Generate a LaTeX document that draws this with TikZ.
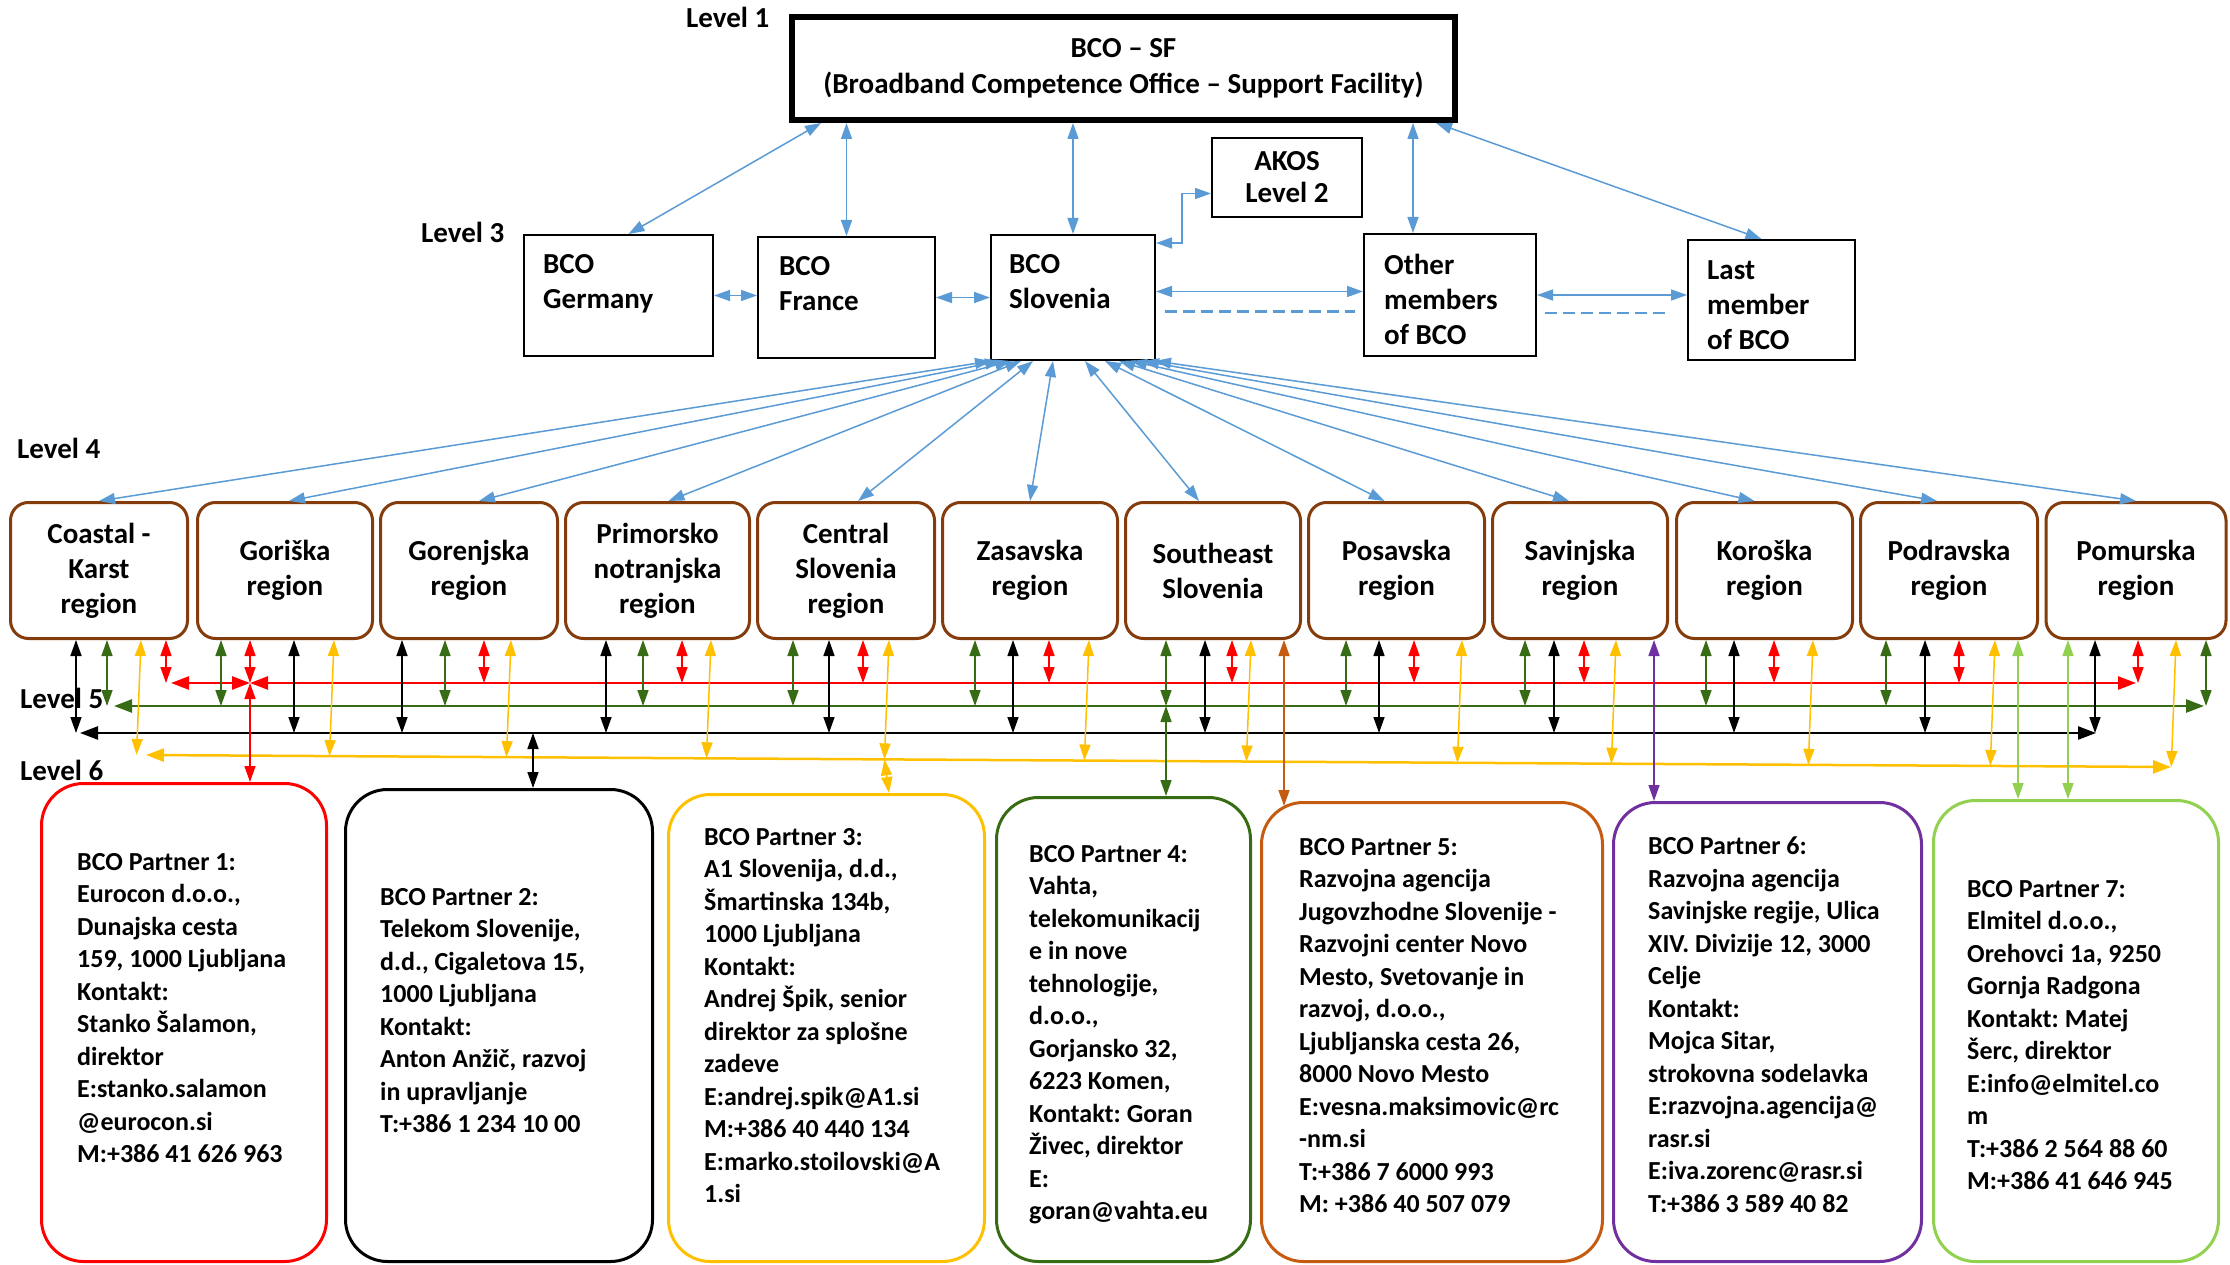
\documentclass[tikz,border=0pt]{standalone}
\usepackage{fontspec}
\setmainfont{Carlito}
\usepackage{tikz}
\usetikzlibrary{arrows.meta,calc}

\definecolor{bcoblue}{RGB}{91,155,213}
\definecolor{regbrown}{RGB}{132,60,12}
\definecolor{dgreen}{RGB}{56,108,20}
\definecolor{gold}{RGB}{255,192,0}
\definecolor{rust}{RGB}{197,90,17}
\definecolor{violet2}{RGB}{112,48,160}
\definecolor{lgreen}{RGB}{146,208,80}

\tikzset{
  >={Triangle[length=16pt,width=11pt]},
  lvl/.style={anchor=west, inner sep=0pt, font=\fontsize{29}{35}\selectfont\bfseries},
  sfbox/.style={draw, line width=6pt, align=center, font=\fontsize{29}{36}\selectfont\bfseries},
  cbox/.style={draw, line width=1.6pt, inner sep=0pt},
  btext/.style={anchor=north west, inner sep=0pt, align=left, font=\fontsize{29}{35}\selectfont\bfseries},
  region/.style={draw=regbrown, line width=3pt, rounded corners=18pt, minimum height=136pt,
    align=center, font=\fontsize{29}{35}\selectfont\bfseries},
  pbox/.style={line width=3pt, rounded corners=42pt},
  ptext/.style={anchor=north west, inner sep=0pt, align=left,
    font=\fontsize{26}{32.5}\selectfont\bfseries\frenchspacing},
  blu/.style={bcoblue, line width=1.5pt, <->},
  bdash/.style={bcoblue, line width=2.5pt, dash pattern=on 12pt off 6pt},
  stub/.style={line width=1.5pt, <->},
  bus/.style={line width=2.5pt, {Triangle[length=18pt,width=13pt]}-{Triangle[length=18pt,width=13pt]}},
}

\begin{document}
\begin{tikzpicture}[x=1pt, y=-1pt]
  \fill[white] (0,0) rectangle (2230,1265);
  \useasboundingbox (0,0) rectangle (2230,1265);

  % Level 1
  \node[lvl] (lv1) at (686,17) {Level 1};
  \node[sfbox, minimum width=663pt, minimum height=103pt] (sf) at (1123.5,68.5)
    {BCO – SF\\(Broadband Competence Office – Support Facility)};

  % Level 2 and 3
  \node[lvl] (lv3) at (421,232) {Level 3};
  \node[cbox, minimum width=189.4pt, minimum height=121.4pt] (ger) at (618.5,295.5) {};
  \node[cbox, minimum width=177.4pt, minimum height=121.4pt] (fr) at (846.5,297.5) {};
  \node[cbox, minimum width=164.4pt, minimum height=125.4pt] (slo) at (1073,297.5) {};
  \node[cbox, minimum width=150.4pt, minimum height=79.4pt, align=center,
        font=\fontsize{29}{32}\selectfont\bfseries] (akos) at (1287,177.5) {AKOS\\Level 2};
  \node[cbox, minimum width=172.4pt, minimum height=122.4pt] (oth) at (1450,295) {};
  \node[cbox, minimum width=167.4pt, minimum height=120.4pt] (last) at (1771.5,300) {};
  \node[btext] (gerT) at (543,254) {BCO\\Germany};
  \node[btext] (frT) at (779,256) {BCO\\France};
  \node[btext] (sloT) at (1009,254) {BCO\\Slovenia};
  \node[btext] (othT) at (1384,254) {Other\\members\\of BCO};
  \node[btext] (lastT) at (1707,260) {Last\\member\\of BCO};

  \draw[blu] ([xshift=-302.5pt]sf.south) -- ([xshift=10pt]ger.north);
  \draw[blu] (sf.south -| fr.north) -- (fr.north);
  \draw[blu] (sf.south -| slo.north) -- (slo.north);
  \draw[blu] (sf.south -| 1413,0) -- (oth.north -| 1413,0);
  \draw[blu] (sf.south -| 1436,0) -- ([xshift=-10pt]last.north);
  \draw[blu] (ger.east) -- (ger.east -| fr.west);
  \draw[blu] (fr.east) -- (fr.east -| slo.west);
  \draw[blu] ([yshift=6pt]slo.east) -- ([yshift=6pt]slo.east -| oth.west);
  \draw[blu] (oth.east) -- (oth.east -| last.west);
  \draw[bdash] ($(slo.east)+(9,14)$) -- ($(slo.east -| oth.west)+(-8,14)$);
  \draw[bdash] ($(oth.east)+(8,18)$) -- ($(oth.east -| last.west)+(-22,18)$);
  \draw[blu] ([yshift=-9pt]slo.north east) -| ([xshift=-29pt,yshift=-16pt]akos.west)
    -- ([yshift=-16pt]akos.west);

  % Level 4 regions
  \node[lvl] (lv4) at (17,448) {Level 4};
  \node[region, minimum width=177pt] (r1) at (99,570.5) {Coastal -\\Karst\\region};
  \node[region, minimum width=175pt] (r2) at (285,570.5) {Goriška\\region};
  \node[region, minimum width=177pt] (r3) at (469,570.5) {Gorenjska\\region};
  \node[region, minimum width=184pt] (r4) at (657.5,570.5) {Primorsko\\notranjska\\region};
  \node[region, minimum width=177pt] (r5) at (846,570.5) {Central\\Slovenia\\region};
  \node[region, minimum width=175pt] (r6) at (1030,570.5) {Zasavska\\region};
  \node[region, minimum width=175pt] (r7) at (1213,570.5) {Southeast\\Slovenia};
  \node[region, minimum width=176pt] (r8) at (1396.5,570.5) {Posavska\\region};
  \node[region, minimum width=175pt] (r9) at (1580,570.5) {Savinjska\\region};
  \node[region, minimum width=176pt] (r10) at (1764.5,570.5) {Koroška\\region};
  \node[region, minimum width=177pt] (r11) at (1949,570.5) {Podravska\\region};
  \node[region, minimum width=180pt] (r12) at (2136,570.5) {Pomurska\\region};

  \draw[blu] ([xshift=-82pt]slo.south) -- (r1.north);
  \draw[blu] ([xshift=-72pt]slo.south) -- ([xshift=4pt]r2.north);
  \draw[blu] ([xshift=-62pt]slo.south) -- ([xshift=10pt]r3.north);
  \draw[blu] ([xshift=-52pt]slo.south) -- ([xshift=11pt]r4.north);
  \draw[blu] ([xshift=-40pt]slo.south) -- ([xshift=12pt]r5.north);
  \draw[blu] ([xshift=-20pt]slo.south) -- (r6.north);
  \draw[blu] ([xshift=12pt]slo.south) -- ([xshift=-14pt]r7.north);
  \draw[blu] ([xshift=32pt]slo.south) -- ([xshift=-12pt]r8.north);
  \draw[blu] ([xshift=46pt]slo.south) -- ([xshift=-11pt]r9.north);
  \draw[blu] ([xshift=58pt]slo.south) -- ([xshift=-10pt]r10.north);
  \draw[blu] ([xshift=70pt]slo.south) -- ([xshift=-12pt]r11.north);
  \draw[blu] ([xshift=82pt]slo.south) -- (r12.north);

  % Level 5 lines
  \node[lvl] (lv5) at (20,698) {Level 5};
  \node[lvl] (lv6) at (20,770) {Level 6};
  \coordinate (redL) at (171,683);
  \coordinate (redM) at (250,683);
  \coordinate (redR) at (2136,683);
  \coordinate (grnL) at (114,706);
  \coordinate (grnR) at (2204,706);
  \coordinate (blkL) at (80,733);
  \coordinate (blkR) at (2096,733);
  \coordinate (yelL) at (146,755);
  \coordinate (yelR) at (2171,767);
  \draw[bus, red] (redL) -- (redM);
  \draw[bus, red] (redM) -- (redR);
  \draw[bus, dgreen] (grnL) -- (grnR);
  \draw[bus, black] (blkL) -- (blkR);
  \draw[bus, gold] (yelL) -- (yelR);

  % black
  \draw[stub, black] (r1.south -| 76,0) -- (blkL -| 76,0);
  \draw[stub, black] (r2.south -| 294,0) -- (blkL -| 294,0);
  \draw[stub, black] (r3.south -| 402,0) -- (blkL -| 402,0);
  \draw[stub, black] (r4.south -| 606,0) -- (blkL -| 606,0);
  \draw[stub, black] (r5.south -| 829,0) -- (blkL -| 829,0);
  \draw[stub, black] (r6.south -| 1013,0) -- (blkL -| 1013,0);
  \draw[stub, black] (r7.south -| 1205,0) -- (blkL -| 1205,0);
  \draw[stub, black] (r8.south -| 1379,0) -- (blkL -| 1379,0);
  \draw[stub, black] (r9.south -| 1554,0) -- (blkL -| 1554,0);
  \draw[stub, black] (r10.south -| 1734,0) -- (blkL -| 1734,0);
  \draw[stub, black] (r11.south -| 1925,0) -- (blkL -| 1925,0);
  \draw[stub, black] (r12.south -| 2095,0) -- (blkL -| 2095,0);
  % green
  \draw[stub, dgreen] (r1.south -| 107,0) -- (grnL -| 107,0);
  \draw[stub, dgreen] (r2.south -| 221,0) -- (grnL -| 221,0);
  \draw[stub, dgreen] (r3.south -| 445,0) -- (grnL -| 445,0);
  \draw[stub, dgreen] (r4.south -| 643,0) -- (grnL -| 643,0);
  \draw[stub, dgreen] (r5.south -| 793,0) -- (grnL -| 793,0);
  \draw[stub, dgreen] (r6.south -| 975,0) -- (grnL -| 975,0);
  \draw[stub, dgreen] (r7.south -| 1166,0) -- (grnL -| 1166,0);
  \draw[stub, dgreen] (r8.south -| 1346,0) -- (grnL -| 1346,0);
  \draw[stub, dgreen] (r9.south -| 1525,0) -- (grnL -| 1525,0);
  \draw[stub, dgreen] (r10.south -| 1706,0) -- (grnL -| 1706,0);
  \draw[stub, dgreen] (r11.south -| 1886,0) -- (grnL -| 1886,0);
  \draw[stub, dgreen] (r12.south -| 2206,0) -- (grnL -| 2206,0);
  % red
  \draw[stub, red] (r1.south -| 166,0) -- (redL -| 166,0);
  \draw[stub, red] (r2.south -| 250,0) -- (redM);
  \draw[stub, red] (r3.south -| 484,0) -- (redL -| 484,0);
  \draw[stub, red] (r4.south -| 682,0) -- (redL -| 682,0);
  \draw[stub, red] (r5.south -| 863,0) -- (redL -| 863,0);
  \draw[stub, red] (r6.south -| 1049,0) -- (redL -| 1049,0);
  \draw[stub, red] (r7.south -| 1232,0) -- (redL -| 1232,0);
  \draw[stub, red] (r8.south -| 1414,0) -- (redL -| 1414,0);
  \draw[stub, red] (r9.south -| 1584,0) -- (redL -| 1584,0);
  \draw[stub, red] (r10.south -| 1774,0) -- (redL -| 1774,0);
  \draw[stub, red] (r11.south -| 1959,0) -- (redL -| 1959,0);
  \draw[stub, red] (r12.south -| 2138,0) -- (redL -| 2138,0);
  % yellow
  \draw[stub, gold] (r1.south -| 141,0) -- ($(yelL)!(141,0)!(yelR)$);
  \draw[stub, gold] (r2.south -| 334,0) -- ($(yelL)!(334,0)!(yelR)$);
  \draw[stub, gold] (r3.south -| 511,0) -- ($(yelL)!(511,0)!(yelR)$);
  \draw[stub, gold] (r4.south -| 711,0) -- ($(yelL)!(711,0)!(yelR)$);
  \draw[stub, gold] (r5.south -| 889,0) -- ($(yelL)!(889,0)!(yelR)$);
  \draw[stub, gold] (r6.south -| 1089,0) -- ($(yelL)!(1089,0)!(yelR)$);
  \draw[stub, gold] (r7.south -| 1251,0) -- ($(yelL)!(1251,0)!(yelR)$);
  \draw[stub, gold] (r8.south -| 1462,0) -- ($(yelL)!(1462,0)!(yelR)$);
  \draw[stub, gold] (r9.south -| 1616,0) -- ($(yelL)!(1616,0)!(yelR)$);
  \draw[stub, gold] (r10.south -| 1813,0) -- ($(yelL)!(1813,0)!(yelR)$);
  \draw[stub, gold] (r11.south -| 1995,0) -- ($(yelL)!(1995,0)!(yelR)$);
  \draw[stub, gold] (r12.south -| 2176,0) -- ($(yelL)!(2176,0)!(yelR)$);

  % Level 6 partners
  \node[pbox, draw=red, minimum width=285pt, minimum height=478pt] (p1) at (184,1022.5) {};
  \node[pbox, draw=black, minimum width=307pt, minimum height=472pt] (p2) at (499,1025.5) {};
  \node[pbox, draw=gold, minimum width=316pt, minimum height=467pt] (p3) at (826.5,1028) {};
  \node[pbox, draw=dgreen, minimum width=254pt, minimum height=464pt] (p4) at (1123.5,1029.5) {};
  \node[pbox, draw=rust, minimum width=341pt, minimum height=459pt] (p5) at (1432,1032) {};
  \node[pbox, draw=violet2, minimum width=308pt, minimum height=459pt] (p6) at (1767.5,1032) {};
  \node[pbox, draw=lgreen, minimum width=285pt, minimum height=461pt] (p7) at (2076,1031) {};

  \node[ptext] (p1t) at (77,853) {BCO Partner 1:\\Eurocon d.o.o.,\\Dunajska cesta\\159, 1000 Ljubljana\\Kontakt:\\Stanko Šalamon,\\direktor\\E:stanko.salamon\\@eurocon.si\\M:+386 41 626 963};
  \node[ptext] (p2t) at (380,888) {BCO Partner 2:\\Telekom Slovenije,\\d.d., Cigaletova 15,\\1000 Ljubljana\\Kontakt:\\Anton Anžič, razvoj\\in upravljanje\\T:+386 1 234 10 00};
  \node[ptext] (p3t) at (704,828) {BCO Partner 3:\\A1 Slovenija, d.d.,\\Šmartinska 134b,\\1000 Ljubljana\\Kontakt:\\Andrej Špik, senior\\direktor za splošne\\zadeve\\E:andrej.spik@A1.si\\M:+386 40 440 134\\E:marko.stoilovski@A\\1.si};
  \node[ptext] (p4t) at (1029,845) {BCO Partner 4:\\Vahta,\\telekomunikacij\\e in nove\\tehnologije,\\d.o.o.,\\Gorjansko 32,\\6223 Komen,\\Kontakt: Goran\\Živec, direktor\\E:\\goran@vahta.eu};
  \node[ptext] (p5t) at (1299,838) {BCO Partner 5:\\Razvojna agencija\\Jugovzhodne Slovenije -\\Razvojni center Novo\\Mesto, Svetovanje in\\razvoj, d.o.o.,\\Ljubljanska cesta 26,\\8000 Novo Mesto\\E:vesna.maksimovic@rc\\-nm.si\\T:+386 7 6000 993\\M: +386 40 507 079};
  \node[ptext] (p6t) at (1648,837) {BCO Partner 6:\\Razvojna agencija\\Savinjske regije, Ulica\\XIV. Divizije 12, 3000\\Celje\\Kontakt:\\Mojca Sitar,\\strokovna sodelavka\\E:razvojna.agencija@\\rasr.si\\E:iva.zorenc@rasr.si\\T:+386 3 589 40 82};
  \node[ptext] (p7t) at (1967,880) {BCO Partner 7:\\Elmitel d.o.o.,\\Orehovci 1a, 9250\\Gornja Radgona\\Kontakt: Matej\\Šerc, direktor\\E:info@elmitel.co\\m\\T:+386 2 564 88 60\\M:+386 41 646 945};

  \draw[stub, red] (redM) -- (p1.north -| redM);
  \draw[stub, black] (blkL -| 533,0) -- (p2.north -| 533,0);
  \draw[stub, gold] ($(yelL)!(889,0)!(yelR)$) -- (p3.north -| 889,0);
  \draw[stub, dgreen] (grnL -| 1166,0) -- (p4.north -| 1166,0);
  \draw[stub, rust] (r7.south -| 1284,0) -- ($(p5.north -| 1284,0)+(0,5)$);
  \draw[stub, violet2] (r9.south -| 1654,0) -- (p6.north -| 1654,0);
  \draw[stub, lgreen] (r11.south -| 2018,0) -- (p7.north -| 2018,0);
  \draw[stub, lgreen] (r12.south -| 2068,0) -- (p7.north -| 2068,0);
\end{tikzpicture}
\end{document}
